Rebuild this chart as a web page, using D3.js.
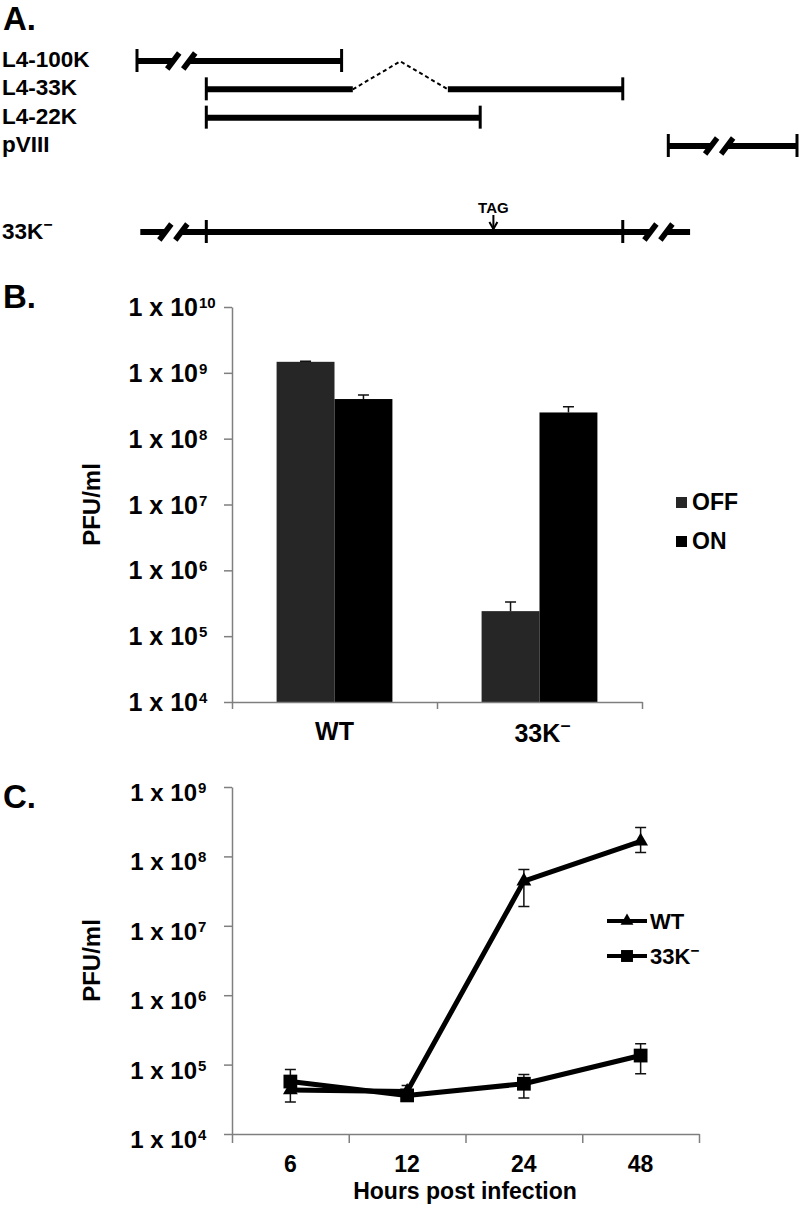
<!DOCTYPE html>
<html>
<head>
<meta charset="utf-8">
<script src="https://cdn.jsdelivr.net/npm/d3@7"></script>
<style>
  body { margin: 0; background: #fff; }
  svg { display: block; }
  text { font-family: "Liberation Sans", Arial, sans-serif; font-weight: bold; fill: #000; }
</style>
</head>
<body>
<svg width="800" height="1208"></svg>
<script>
// ---- panel A: gene map (map units 0..100) ----
const geneNames = ["L4-100K", "L4-33K", "L4-22K", "pVIII"];
const geneStart = [0, 10.5, 10.5, 80.5];
const geneEnd = [31, 73.6, 52, 100];
const geneBreak = [6.7, null, null, 88.2];
const intron33K = [32.7, 47.1];
const mutantSpan = [0.5, 83.8];
const mutantTicks = [10.5, 73.6];
const mutantBreaks = [5.5, 79];
const tagPos = 54;

// ---- panel B: titers with transgene OFF / ON ----
const strains = ["WT", "33K"];
const conditions = ["OFF", "ON"];
const titerOff = [1.47e9, 2.4e5];
const titerOn = [4.0e8, 2.5e8];
const errOff = [1.5e9, 3.3e5];
const errOn = [4.6e8, 3.05e8];
const ticksB = [1e4, 1e5, 1e6, 1e7, 1e8, 1e9, 1e10];

// ---- panel C: time course ----
const hours = ["6", "12", "24", "48"];
const wtTiter = [4.3e4, 4.1e4, 4.4e7, 1.65e8];
const wtHi = [5.5e4, 5.0e4, 6.5e7, 2.6e8];
const wtLo = [2.9e4, 3.3e4, 1.9e7, 1.14e8];
const mutTiter = [5.7e4, 3.6e4, 5.3e4, 1.35e5];
const mutHi = [8.5e4, 4.3e4, 7.2e4, 2.0e5];
const mutLo = [4.0e4, 3.1e4, 3.3e4, 7.4e4];
const ticksC = [1e4, 1e5, 1e6, 1e7, 1e8, 1e9];

const svg = d3.select("svg");
const axisGray = "#7f7f7f";

function panelLetter(t, y) {
  svg.append("text").attr("x", 3).attr("y", y).attr("font-size", 33).text(t);
}

// label with superscript minus: "33K⁻"
function minusLabel(sel) {
  sel.text("33K");
  sel.append("tspan").attr("dy", "-0.55em").attr("font-size", "0.7em").text("−");
}

// ================= A =================
panelLetter("A.", 30);
const xA = d3.scaleLinear().domain([0, 100]).range([137, 797]);
const rowA = d3.scalePoint().domain(geneNames).range([61, 146]);
const yMut = 232;
const gA = svg.append("g");

function seg(x1, x2, y) {
  gA.append("line").attr("x1", x1).attr("x2", x2).attr("y1", y).attr("y2", y)
    .attr("stroke", "#000").attr("stroke-width", 6);
}
function endTick(x, y) {
  gA.append("line").attr("x1", x).attr("x2", x).attr("y1", y - 12).attr("y2", y + 11)
    .attr("stroke", "#000").attr("stroke-width", 3);
}
function slashes(c, y) {
  [c - 8, c + 8].forEach(s => {
    gA.append("line").attr("x1", s - 6).attr("x2", s + 6).attr("y1", y + 8).attr("y2", y - 8)
      .attr("stroke", "#000").attr("stroke-width", 5.5);
  });
}

geneNames.forEach((g, i) => {
  const y = rowA(g);
  gA.append("text").attr("x", 2).attr("y", y + 6).attr("font-size", 22.5).text(g);
  const a = xA(geneStart[i]), b = xA(geneEnd[i]);
  if (geneBreak[i] !== null) {
    const c = xA(geneBreak[i]);
    seg(a, c - 8, y); seg(c + 8, b, y); slashes(c, y);
  } else if (g === "L4-33K") {
    const e1 = xA(intron33K[0]), e2 = xA(intron33K[1]);
    seg(a, e1, y); seg(e2, b, y);
    gA.append("path")
      .attr("d", d3.line()([[e1, y], [(e1 + e2) / 2, y - 28], [e2, y]]))
      .attr("fill", "none").attr("stroke", "#000").attr("stroke-width", 2)
      .attr("stroke-dasharray", "4,3");
  } else {
    seg(a, b, y);
  }
  endTick(a, y); endTick(b, y);
});

// mutant construct
gA.append("text").attr("x", 2).attr("y", yMut + 7).attr("font-size", 22.5).call(minusLabel);
{
  const a = xA(mutantSpan[0]), b = xA(mutantSpan[1]);
  const c1 = xA(mutantBreaks[0]), c2 = xA(mutantBreaks[1]);
  seg(a, c1 - 8, yMut); seg(c1 + 8, c2 - 8, yMut); seg(c2 + 8, b, yMut);
  slashes(c1, yMut); slashes(c2, yMut);
  mutantTicks.forEach(t => endTick(xA(t), yMut));
  const tx = xA(tagPos);
  gA.append("text").attr("x", tx).attr("y", 213).attr("text-anchor", "middle")
    .attr("font-size", 15).text("TAG");
  gA.append("line").attr("x1", tx).attr("x2", tx).attr("y1", 215).attr("y2", 229)
    .attr("stroke", "#000").attr("stroke-width", 2);
  gA.append("path").attr("d", d3.line()([[tx - 4, 222], [tx, 229], [tx + 4, 222]]))
    .attr("fill", "none").attr("stroke", "#000").attr("stroke-width", 2);
}

// log tick labels "1 x 10^n"
function logLabels(g, scale, ticks, x, dyMain, dySup, size, supSize) {
  ticks.forEach(t => {
    const e = Math.round(Math.log10(t));
    g.append("text").attr("x", x).attr("y", scale(t) + dyMain).attr("text-anchor", "end")
      .attr("font-size", size).text("1 x 10");
    g.append("text").attr("x", x + 1).attr("y", scale(t) + dySup)
      .attr("font-size", supSize).text(e);
  });
}
function styleAxis(g) {
  g.selectAll("path, line").attr("stroke", axisGray).attr("stroke-width", 1.5);
  g.selectAll("text").remove();
}

// ================= B =================
panelLetter("B.", 308);
const yB = d3.scaleLog().domain([1e4, 1e10]).range([702, 307]);
const x0 = d3.scaleBand().domain(strains).range([232, 642]);
const x1 = d3.scaleBand().domain(conditions).range([0, x0.bandwidth()]).paddingOuter(0.77);
const colorB = d3.scaleOrdinal().domain(conditions).range(["#262626", "#000000"]);
const gB = svg.append("g");

const barsB = [];
strains.forEach((s, i) => {
  barsB.push({ s, c: "OFF", v: titerOff[i], e: errOff[i] });
  barsB.push({ s, c: "ON", v: titerOn[i], e: errOn[i] });
});

gB.selectAll(".bar").data(barsB).enter().append("rect")
  .attr("x", d => x0(d.s) + x1(d.c))
  .attr("y", d => yB(d.v))
  .attr("width", x1.bandwidth())
  .attr("height", d => yB(1e4) - yB(d.v))
  .attr("fill", d => colorB(d.c));

gB.selectAll(".err").data(barsB).enter().append("path")
  .attr("d", d => {
    const cx = x0(d.s) + x1(d.c) + x1.bandwidth() / 2;
    return `M${cx},${yB(d.v)}V${yB(d.e)}M${cx - 5.5},${yB(d.e)}H${cx + 5.5}`;
  })
  .attr("fill", "none").attr("stroke", "#111").attr("stroke-width", 1.5);

gB.append("g").attr("transform", "translate(232,0)")
  .call(d3.axisLeft(yB).tickValues(ticksB).tickSize(8).tickSizeOuter(0))
  .call(styleAxis);
gB.append("g").attr("transform", "translate(0,702)")
  .call(d3.axisBottom(d3.scaleLinear().domain([0, strains.length]).range(x0.range()))
    .ticks(strains.length).tickSize(7).tickSizeOuter(0))
  .call(styleAxis);

logLabels(gB, yB, ticksB, 198, 9, 1, 25, 15);
gB.append("text").attr("transform", `translate(100,${(yB(1e4) + yB(1e10)) / 2}) rotate(-90)`)
  .attr("text-anchor", "middle").attr("font-size", 24).text("PFU/ml");

gB.append("text").attr("x", x0("WT") + x0.bandwidth() / 2).attr("y", 740)
  .attr("text-anchor", "middle").attr("font-size", 25).text("WT");
gB.append("text").attr("x", x0("33K") + x0.bandwidth() / 2 + 3).attr("y", 742)
  .attr("text-anchor", "middle").attr("font-size", 25).call(minusLabel);

conditions.forEach((c, i) => {
  const y = 497 + i * 39;
  gB.append("rect").attr("x", 676).attr("y", y).attr("width", 11).attr("height", 11)
    .attr("fill", colorB(c));
  gB.append("text").attr("x", 692).attr("y", y + 13).attr("font-size", 23).text(c);
});

// ================= C =================
panelLetter("C.", 808);
const yC = d3.scaleLog().domain([1e4, 1e9]).range([1134, 787]);
const xC = d3.scaleBand().domain(hours).range([232, 699]);
const cx = h => xC(h) + xC.bandwidth() / 2;
const gC = svg.append("g");

gC.append("g").attr("transform", "translate(232,0)")
  .call(d3.axisLeft(yC).tickValues(ticksC).tickSize(8).tickSizeOuter(0))
  .call(styleAxis);
gC.append("g").attr("transform", "translate(0,1134)")
  .call(d3.axisBottom(d3.scaleLinear().domain([0, hours.length]).range(xC.range()))
    .ticks(hours.length).tickSize(9).tickSizeOuter(0))
  .call(styleAxis);

logLabels(gC, yC, ticksC, 197, 14, 6, 24, 15);
gC.append("text").attr("transform", `translate(100,${(yC(1e4) + yC(1e9)) / 2}) rotate(-90)`)
  .attr("text-anchor", "middle").attr("font-size", 24).text("PFU/ml");

hours.forEach(h => {
  gC.append("text").attr("x", cx(h)).attr("y", 1172).attr("text-anchor", "middle")
    .attr("font-size", 23).text(h);
});
gC.append("text").attr("x", 465).attr("y", 1199).attr("text-anchor", "middle")
  .attr("font-size", 23).text("Hours post infection");

const seriesC = [
  { name: "WT", v: wtTiter, hi: wtHi, lo: wtLo, sym: d3.symbolTriangle, size: 95 },
  { name: "33K", v: mutTiter, hi: mutHi, lo: mutLo, sym: d3.symbolSquare, size: 190 }
];
const lineC = d3.line().x(d => cx(d.h)).y(d => yC(d.v));

seriesC.forEach(s => {
  const pts = hours.map((h, i) => ({ h, v: s.v[i], hi: s.hi[i], lo: s.lo[i] }));
  gC.selectAll(null).data(pts).enter().append("path")
    .attr("d", d => `M${cx(d.h)},${yC(d.lo)}V${yC(d.hi)}` +
      `M${cx(d.h) - 5.5},${yC(d.hi)}H${cx(d.h) + 5.5}M${cx(d.h) - 5.5},${yC(d.lo)}H${cx(d.h) + 5.5}`)
    .attr("fill", "none").attr("stroke", "#111").attr("stroke-width", 1.5);
});
seriesC.forEach(s => {
  const pts = hours.map((h, i) => ({ h, v: s.v[i] }));
  gC.append("path").datum(pts).attr("d", lineC)
    .attr("fill", "none").attr("stroke", "#000").attr("stroke-width", 5)
    .attr("stroke-linejoin", "round");
  gC.selectAll(null).data(pts).enter().append("path")
    .attr("transform", d => `translate(${cx(d.h)},${yC(d.v)})`)
    .attr("d", d3.symbol(s.sym, s.size)).attr("fill", "#000");
});

// legend C
seriesC.forEach((s, i) => {
  const y = 921 + i * 35;
  gC.append("line").attr("x1", 607).attr("x2", 647).attr("y1", y).attr("y2", y)
    .attr("stroke", "#000").attr("stroke-width", 4);
  gC.append("path").attr("transform", `translate(627,${y})`)
    .attr("d", d3.symbol(s.sym, s.size * 0.75)).attr("fill", "#000");
  const t = gC.append("text").attr("x", 650).attr("y", y + 8).attr("font-size", 22);
  if (s.name === "WT") t.text("WT"); else t.call(minusLabel);
});
</script>
</body>
</html>
